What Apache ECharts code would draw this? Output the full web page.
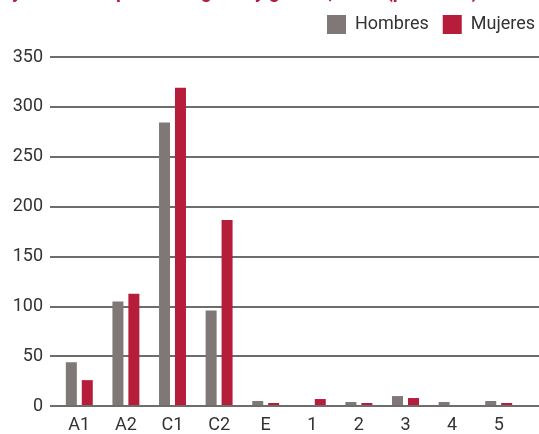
<!DOCTYPE html>
<html>
<head>
<meta charset="utf-8">
<script src="https://cdn.jsdelivr.net/npm/echarts@6/dist/echarts.min.js"></script>
<style>
  html, body { margin: 0; padding: 0; background: #fff; }
  #chart { width: 539px; height: 434px; }
</style>
</head>
<body>
<div id="chart"></div>
<script>
// datos
var categorias = ['A1', 'A2', 'C1', 'C2', 'E', '1', '2', '3', '4', '5']
var hombres = [43, 104, 284, 95, 4, 0, 3, 9, 3, 4]
var mujeres = [25, 112, 319, 186, 2, 6, 2, 7, 0, 2]
var nombres = ['Hombres', 'Mujeres']
var titulo = 'y titulados aprobados grado y género, 2023 (personas)'

var colores = ['#7f7877', '#b51d3b']
var fuente = 'Roboto, sans-serif'

var myChart = echarts.init(document.getElementById('chart'))

var option = {
  animation: false,
  color: colores,
  graphic: [{
    type: 'text',
    left: 12,
    top: -16,
    style: {
      text: titulo,
      font: 'bold 19px ' + fuente,
      fill: '#b51d3b'
    }
  }],
  legend: {
    right: -1,
    top: 10,
    itemWidth: 19,
    itemHeight: 19,
    itemGap: 14,
    icon: 'rect',
    data: nombres,
    textStyle: {
      fontFamily: fuente,
      fontSize: 18,
      color: '#333',
      padding: [0, 0, 0, 4]
    }
  },
  grid: [
    // barras
    { left: 56, right: 17, top: 57, bottom: 28 },
    // líneas de fondo y etiquetas del eje y
    { left: 50, right: 0, top: 57, bottom: 28 }
  ],
  xAxis: [
    {
      type: 'category',
      gridIndex: 0,
      data: categorias,
      axisLine: { show: false },
      axisTick: { show: false },
      axisLabel: {
        margin: 11,
        fontFamily: fuente,
        fontSize: 18,
        color: '#333'
      }
    },
    {
      type: 'value',
      gridIndex: 1,
      show: false
    }
  ],
  yAxis: [
    {
      type: 'value',
      gridIndex: 0,
      min: 0,
      max: 350,
      interval: 50,
      show: false
    },
    {
      type: 'value',
      gridIndex: 1,
      min: 0,
      max: 350,
      interval: 50,
      axisLine: { show: false },
      axisTick: { show: false },
      axisLabel: {
        margin: 7,
        fontFamily: fuente,
        fontSize: 18,
        color: '#333'
      },
      splitLine: {
        lineStyle: { color: '#3d3d3d', width: 1.5 }
      }
    }
  ],
  series: [
    {
      name: nombres[0],
      type: 'bar',
      xAxisIndex: 0,
      yAxisIndex: 0,
      data: hombres,
      barWidth: 11,
      barGap: '45%',
      z: 3
    },
    {
      name: nombres[1],
      type: 'bar',
      xAxisIndex: 0,
      yAxisIndex: 0,
      data: mujeres,
      barWidth: 11,
      barGap: '45%',
      z: 3
    }
  ]
}

myChart.setOption(option)
</script>
</body>
</html>
